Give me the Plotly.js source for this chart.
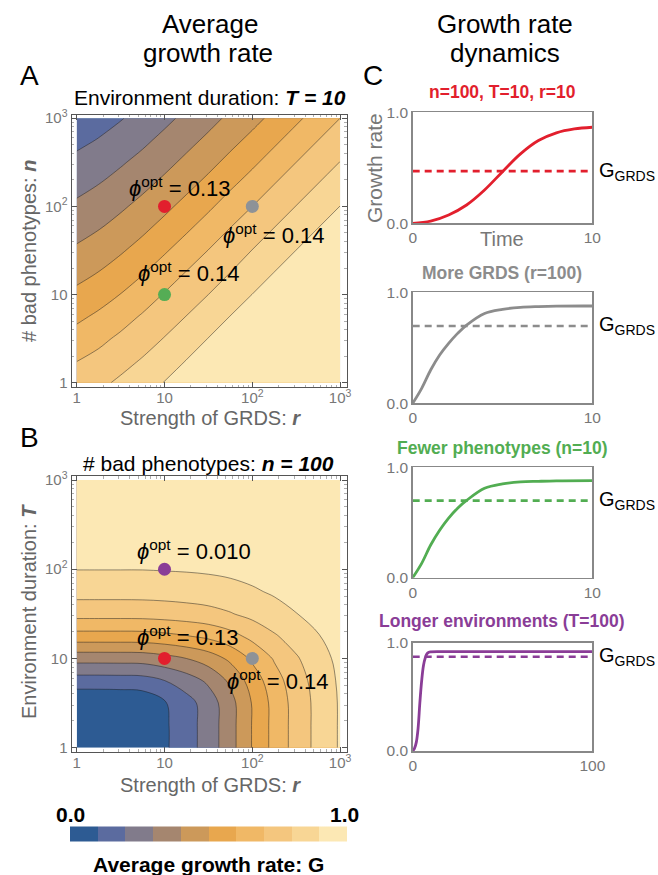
<!DOCTYPE html>
<html><head><meta charset="utf-8">
<script src="https://cdn.plot.ly/plotly-3.0.1.min.js"></script>
<style>html,body{margin:0;padding:0;background:#fff}#plot{width:658px;height:875px}</style>
</head><body><div id="plot"></div>
<script>
const FONT = 'Liberation Sans, Arial, Helvetica, sans-serif';

// grid values (log-spaced, 1 .. 1000)
const rGrid = [1,1.778,3.162,5.623,10,17.78,31.62,56.23,100,177.8,316.2,562.3,1000];
const nGrid = [1,1.778,3.162,5.623,10,17.78,31.62,56.23,100,177.8,316.2,562.3,1000];
const TGrid = [1,1.778,3.162,5.623,10,17.78,31.62,56.23,100,177.8,316.2,562.3,1000];

// Panel A: average growth rate G(r, n) at T = 10 (rows: n, cols: r)
const zA = [
[0.747,0.778,0.817,0.860,0.903,0.922,0.940,0.950,0.960,0.965,0.970,0.975,0.980],
[0.698,0.729,0.767,0.808,0.856,0.902,0.921,0.940,0.950,0.960,0.965,0.970,0.975],
[0.638,0.676,0.718,0.759,0.804,0.854,0.902,0.921,0.940,0.950,0.960,0.965,0.970],
[0.580,0.617,0.662,0.710,0.755,0.802,0.852,0.902,0.920,0.940,0.950,0.960,0.965],
[0.523,0.559,0.602,0.652,0.706,0.753,0.800,0.852,0.901,0.920,0.940,0.950,0.960],
[0.468,0.502,0.545,0.593,0.648,0.704,0.751,0.800,0.850,0.901,0.920,0.940,0.950],
[0.415,0.449,0.489,0.536,0.589,0.645,0.702,0.751,0.802,0.850,0.901,0.920,0.940],
[0.365,0.396,0.436,0.481,0.532,0.586,0.643,0.702,0.749,0.802,0.850,0.901,0.920],
[0.317,0.348,0.385,0.428,0.477,0.530,0.584,0.643,0.700,0.749,0.802,0.850,0.901],
[0.271,0.300,0.337,0.377,0.423,0.474,0.527,0.584,0.640,0.700,0.749,0.802,0.850],
[0.225,0.255,0.289,0.329,0.373,0.421,0.472,0.527,0.582,0.640,0.700,0.749,0.802],
[0.176,0.205,0.240,0.280,0.325,0.371,0.419,0.472,0.525,0.582,0.640,0.700,0.749],
[0.136,0.162,0.194,0.233,0.276,0.323,0.369,0.419,0.470,0.525,0.582,0.640,0.700]
];

// Panel B: average growth rate G(r, T) at n = 100 (rows: T, cols: r)
const zB = [
[0.000,0.002,0.006,0.020,0.085,0.158,0.243,0.363,0.505,0.632,0.738,0.830,0.910],
[0.002,0.003,0.007,0.021,0.085,0.158,0.243,0.363,0.505,0.632,0.738,0.830,0.910],
[0.012,0.013,0.016,0.027,0.090,0.162,0.246,0.365,0.506,0.633,0.739,0.830,0.910],
[0.153,0.153,0.155,0.160,0.198,0.250,0.318,0.419,0.544,0.658,0.755,0.840,0.915],
[0.338,0.338,0.339,0.342,0.366,0.400,0.447,0.521,0.617,0.709,0.789,0.861,0.925],
[0.560,0.560,0.560,0.562,0.575,0.595,0.622,0.666,0.728,0.789,0.844,0.895,0.942],
[0.737,0.737,0.737,0.738,0.745,0.755,0.769,0.794,0.828,0.864,0.898,0.930,0.960],
[0.836,0.836,0.836,0.837,0.840,0.846,0.855,0.869,0.889,0.911,0.932,0.953,0.973],
[0.902,0.902,0.902,0.902,0.905,0.908,0.913,0.921,0.932,0.945,0.957,0.970,0.982],
[0.931,0.931,0.931,0.931,0.933,0.935,0.938,0.944,0.952,0.960,0.969,0.978,0.987],
[0.960,0.960,0.960,0.960,0.961,0.962,0.964,0.967,0.972,0.976,0.981,0.987,0.992],
[0.973,0.973,0.973,0.973,0.974,0.974,0.976,0.978,0.981,0.984,0.987,0.990,0.994],
[0.985,0.985,0.985,0.985,0.985,0.986,0.986,0.987,0.989,0.991,0.993,0.995,0.997]
];

const bandColors = ['#2d5b93','#5b6b9f','#817b8b','#a5866f','#cc995a','#e8a74e','#f0b866','#f4c67e','#f8d695','#fce8b4'];

// highlighted parameter points
const ptsA_r = [10, 100, 10];
const ptsA_n = [100, 100, 10];
const ptsA_col = ['#e21f2d', '#8e9297', '#55ad55'];
const ptsB_r = [10, 10, 100];
const ptsB_T = [100, 10, 10];
const ptsB_col = ['#8a3d97', '#e21f2d', '#8e9297'];

// Panel C time courses
const tRed = [0,1,2,3,4,5,6,7,8,9,10];
const gRed = [0,0.02,0.075,0.165,0.30,0.465,0.625,0.745,0.815,0.85,0.865];
const gsRed = 0.47;

const tGray = [0,0.5,1,1.5,2,2.5,3,4,5,6,7,8,10];
const gGray = [0,0.135,0.30,0.435,0.54,0.63,0.705,0.81,0.847,0.865,0.872,0.876,0.877];
const gsGray = 0.697;

const tGreen = [0,0.5,1,1.5,2,2.5,3,4,5,6,7,8,10];
const gGreen = [0,0.13,0.296,0.43,0.54,0.63,0.70,0.81,0.85,0.868,0.873,0.877,0.879];
const gsGreen = 0.698;

const tPurple = [0,1,2,3,4,5,6,7,8,9,10,15,30,60,100];
const gPurple = [0,0.025,0.08,0.21,0.45,0.65,0.79,0.86,0.9,0.912,0.915,0.917,0.917,0.917,0.917];
const gsPurple = 0.87;

// axis tick labels
const logTickVals = [1, 10, 100, 1000];
const logTickText = ['1', '10', '10<sup>2</sup>', '10<sup>3</sup>'];
const logMinorVals = [2,3,4,5,6,7,8,9,20,30,40,50,60,70,80,90,200,300,400,500,600,700,800,900];

// stepwise colour scales built from the band colours
const cscale = [];   // for contour fills (bands mapped at k/9)
const barScale = []; // for the colour bar (equal 0.1 steps)
bandColors.forEach((c, k) => {
  const lo = k === 0 ? 0 : (k - 0.5) / 9;
  const hi = k === 9 ? 1 : (k + 0.5) / 9;
  cscale.push([lo, c]); cscale.push([hi, c]);
  barScale.push([k / 10, c]); barScale.push([(k + 1) / 10, c]);
});

const contourCommon = {
  type: 'contour', colorscale: cscale, zmin: 0, zmax: 1,
  autocontour: false, contours: {start: 0.1, end: 0.9, size: 0.1, coloring: 'fill'},
  line: {color: 'rgba(30,30,30,0.6)', width: 0.8, smoothing: 1},
  hoverinfo: 'skip', showscale: false
};

const traces = [
  // colour-bar carrier, hidden underneath the panel A fill
  {type: 'heatmap', x: [10, 100], y: [10, 100], z: [[0.5]], xaxis: 'x', yaxis: 'y',
    colorscale: barScale, zmin: 0, zmax: 1, hoverinfo: 'skip', showscale: true,
    colorbar: {orientation: 'h', x: 0.3169, xanchor: 'center', y: 0.0463, yanchor: 'middle',
      len: 277, lenmode: 'pixels', thickness: 15, thicknessmode: 'pixels',
      showticklabels: false, ticks: '', outlinewidth: 0, xpad: 0, ypad: 0}},
  Object.assign({}, contourCommon, {x: rGrid, y: nGrid, z: zA, xaxis: 'x', yaxis: 'y'}),
  Object.assign({}, contourCommon, {x: rGrid, y: TGrid, z: zB, xaxis: 'x2', yaxis: 'y2'}),
  {type: 'scatter', mode: 'markers', x: ptsA_r, y: ptsA_n, xaxis: 'x', yaxis: 'y',
    marker: {size: 13, color: ptsA_col}, hoverinfo: 'skip'},
  {type: 'scatter', mode: 'markers', x: ptsB_r, y: ptsB_T, xaxis: 'x2', yaxis: 'y2',
    marker: {size: 13, color: ptsB_col}, hoverinfo: 'skip'}
];

function addDyn(t, g, gs, col, xa, ya, tmax) {
  traces.push({type: 'scatter', mode: 'lines', x: [0, tmax], y: [gs, gs], xaxis: xa, yaxis: ya,
    line: {color: col, width: 2.6, dash: '7px,5px'}, hoverinfo: 'skip'});
  traces.push({type: 'scatter', mode: 'lines', x: t, y: g, xaxis: xa, yaxis: ya,
    line: {color: col, width: 2.8, shape: 'spline', smoothing: 1}, hoverinfo: 'skip'});
}
addDyn(tRed, gRed, gsRed, '#e21f2d', 'x3', 'y3', 10);
addDyn(tGray, gGray, gsGray, '#8c8c8c', 'x4', 'y4', 10);
addDyn(tGreen, gGreen, gsGreen, '#52ad52', 'x5', 'y5', 10);
addDyn(tPurple, gPurple, gsPurple, '#8a3d97', 'x6', 'y6', 100);

const tickFont = {family: FONT, size: 15, color: '#777'};
function logAxis(dom, rng, anchor, standoff) {
  return {type: 'log', domain: dom, range: rng, anchor: anchor,
    tickmode: 'array', tickvals: logTickVals, ticktext: logTickText,
    ticks: 'inside', ticklen: 5, tickcolor: '#555', tickwidth: 1, ticklabelstandoff: standoff,
    minor: {tickmode: 'array', tickvals: logMinorVals, ticks: 'inside', ticklen: 2.5, tickcolor: '#999', tickwidth: 0.8, showgrid: false},
    showline: true, linecolor: '#555', linewidth: 1.2, mirror: 'ticks',
    showgrid: false, zeroline: false, tickfont: tickFont, fixedrange: true};
}
function linAxis(dom, rng, vals, txt, anchor) {
  return {domain: dom, range: rng, anchor: anchor, tickvals: vals, ticktext: txt, ticks: '',
    showline: true, linecolor: '#888', linewidth: 1.5, mirror: true,
    showgrid: false, zeroline: false, tickfont: {family: FONT, size: 15.5, color: '#777'}, fixedrange: true};
}
const cx = [0.6272, 0.9002];
const layout = {
  width: 658, height: 875, margin: {l: 0, r: 0, t: 0, b: 0},
  paper_bgcolor: '#fff', plot_bgcolor: '#fff', showlegend: false,
  font: {family: FONT, color: '#000'},
  xaxis: logAxis([0.109, 0.527], [-0.057, 3.076], 'y', -3),
  yaxis: logAxis([0.5574, 0.8686], [-0.052, 3.037], 'x', 0),
  xaxis2: logAxis([0.109, 0.527], [-0.057, 3.076], 'y2', -3),
  yaxis2: logAxis([0.1409, 0.456], [-0.045, 3.045], 'x2', 0),
  xaxis3: linAxis(cx, [0, 10], [0, 10], ['0', '10'], 'y3'),
  yaxis3: linAxis([0.7448, 0.8717], [0, 1], [0, 1], ['0.0', '1.0'], 'x3'),
  xaxis4: linAxis(cx, [0, 10], [0, 10], ['0', '10'], 'y4'),
  yaxis4: linAxis([0.5391, 0.6659], [0, 1], [0, 1], ['0.0', '1.0'], 'x4'),
  xaxis5: linAxis(cx, [0, 10], [0, 10], ['0', '10'], 'y5'),
  yaxis5: linAxis([0.3398, 0.4659], [0, 1], [0, 1], ['0.0', '1.0'], 'x5'),
  xaxis6: linAxis(cx, [0, 100], [0, 100], ['0', '100'], 'y6'),
  yaxis6: linAxis([0.1417, 0.2655], [0, 1], [0, 1], ['0.0', '1.0'], 'x6'),
  annotations: []
};

function px(x) { return x / 658; }
function py(y) { return 1 - y / 875; }
function ann(text, x, y, size, opts) {
  layout.annotations.push(Object.assign({text: text, x: px(x), y: py(y), xref: 'paper', yref: 'paper',
    showarrow: false, xanchor: 'center', yanchor: 'middle',
    font: {family: FONT, size: size, color: '#000'}}, opts || {}));
}
const gray20 = {family: FONT, size: 20, color: '#666'};
// headers
ann('Average', 210, 24, 26);
ann('growth rate', 208, 53, 26);
ann('Growth rate', 505, 24, 26);
ann('dynamics', 505, 53, 26);
ann('A', 29, 75, 28);
ann('B', 29, 437, 28);
ann('C', 373, 75, 28);
// panel titles
ann('Environment duration: <b><i>T = 10</i></b>', 210, 97, 21);
ann('# bad phenotypes: <b><i>n = 100</i></b>', 208, 463, 21);
// axis titles (A, B)
ann('Strength of GRDS: <b><i>r</i></b>', 210, 418, 20, {font: gray20});
ann('Strength of GRDS: <b><i>r</i></b>', 210, 785, 20, {font: gray20});
ann('# bad phenotypes: <b><i>n</i></b>', 29, 251, 20, {textangle: -90, font: gray20});
ann('Environment duration: <b><i>T</i></b>', 29, 612, 20, {textangle: -90, font: gray20});
// phi labels
function phi(val, x, y, xr, yr) {
  layout.annotations.push({text: '<i>ϕ</i><sup>opt</sup> = ' + val, x: x, y: y, xref: xr, yref: yr,
    showarrow: false, xanchor: 'center', yanchor: 'middle', font: {family: FONT, size: 22, color: '#000'}});
}
phi('0.13', 1.18, 2.22, 'x', 'y');
phi('0.14', 2.25, 1.69, 'x', 'y');
phi('0.14', 1.28, 1.26, 'x', 'y');
phi('0.010', 1.34, 2.22, 'x2', 'y2');
phi('0.13', 1.27, 1.25, 'x2', 'y2');
phi('0.14', 2.29, 0.76, 'x2', 'y2');
// panel C titles and labels
ann('<b>n=100, T=10, r=10</b>', 502, 92, 17.5, {font: {family: FONT, size: 17.5, color: '#e21f2d'}});
ann('<b>More GRDS (r=100)</b>', 502, 273, 17.5, {font: {family: FONT, size: 17.5, color: '#8c8c8c'}});
ann('<b>Fewer phenotypes (n=10)</b>', 502, 448, 17.5, {font: {family: FONT, size: 17.5, color: '#52ad52'}});
ann('<b>Longer environments (T=100)</b>', 502, 621, 17.5, {font: {family: FONT, size: 17.5, color: '#8a3d97'}});
ann('Growth rate', 375, 168, 21, {textangle: -90, font: {family: FONT, size: 21, color: '#777'}});
ann('Time', 502, 239, 20, {font: {family: FONT, size: 20, color: '#777'}});
function gLabel(gs, yr) {
  layout.annotations.push({text: 'G<sub>GRDS</sub>', x: px(597), y: gs, xref: 'paper', yref: yr,
    showarrow: false, xanchor: 'left', yanchor: 'middle', font: {family: FONT, size: 20, color: '#000'}});
}
gLabel(gsRed, 'y3'); gLabel(gsGray, 'y4'); gLabel(gsGreen, 'y5'); gLabel(gsPurple, 'y6');
// colorbar labels
ann('<b>0.0</b>', 70, 814, 21);
ann('<b>1.0</b>', 344, 814, 21);
ann('<b>Average growth rate: G</b>', 209, 864, 21);

Plotly.newPlot('plot', traces, layout, {staticPlot: true, displayModeBar: false});
</script></body></html>
